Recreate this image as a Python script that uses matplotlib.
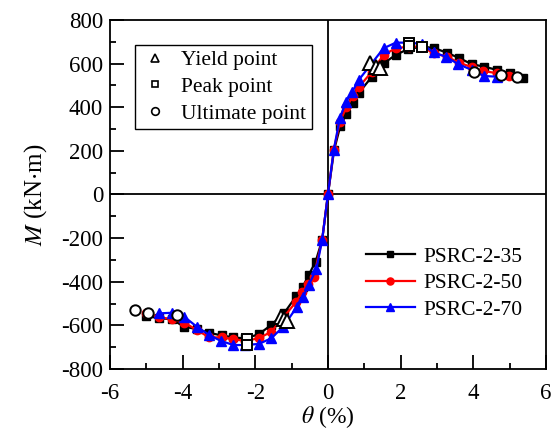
import matplotlib
matplotlib.use("Agg")
import matplotlib.pyplot as plt
from matplotlib.lines import Line2D
from matplotlib.ticker import MultipleLocator

plt.rcParams['font.family'] = ['Liberation Serif', 'DejaVu Serif']
plt.rcParams['mathtext.fontset'] = 'stix'
plt.rcParams['axes.unicode_minus'] = False

# ---- data (theta in %, M in kN*m) ----
th_35 = [-5.01, -4.65, -4.30, -3.96, -3.61, -3.27, -2.93, -2.60, -2.27, -1.90, -1.56, -1.21, -0.87, -0.69, -0.53, -0.34, -0.16, 0.0,
         0.17, 0.34, 0.51, 0.69, 0.86, 1.21, 1.53, 1.87, 2.20, 2.59, 2.93, 3.27, 3.62, 3.96, 4.30, 4.65, 5.00, 5.36]
m_35 = [-557, -567, -572, -606, -617, -634, -646, -655, -660, -640, -598, -545, -465, -422, -369, -308, -209, 0,
        204, 314, 369, 418, 467, 540, 601, 640, 666, 678, 671, 650, 625, 597, 586, 571, 555, 536]

th_50 = [-5.01, -4.65, -4.30, -3.96, -3.61, -3.27, -2.93, -2.60, -2.27, -1.90, -1.56, -1.21, -0.87, -0.71, -0.55, -0.39, -0.16, 0.0,
         0.16, 0.33, 0.51, 0.69, 0.86, 1.21, 1.53, 1.87, 2.22, 2.59, 2.91, 3.27, 3.62, 3.96, 4.28, 4.65, 4.99]
m_50 = [-542, -562, -572, -587, -621, -655, -655, -664, -671, -659, -629, -560, -491, -446, -410, -377, -209, 0,
        204, 334, 400, 452, 494, 563, 640, 670, 678, 678, 647, 632, 603, 584, 566, 556, 543]

th_70 = [-4.65, -4.28, -3.96, -3.61, -3.27, -2.95, -2.60, -2.27, -1.90, -1.56, -1.23, -0.85, -0.68, -0.53, -0.32, -0.16, 0.0,
         0.16, 0.33, 0.50, 0.67, 0.85, 1.53, 1.87, 2.22, 2.59, 2.91, 3.24, 3.59, 3.96, 4.30, 4.65]
m_70 = [-545, -542, -560, -606, -644, -671, -690, -690, -685, -659, -606, -514, -468, -415, -343, -209, 0,
        204, 352, 425, 471, 525, 670, 696, 696, 690, 651, 632, 597, 571, 543, 540]

yield_th = [1.15, 1.33, 1.42, -1.30, -1.22, -1.12]
yield_m = [601, 586, 578, -560, -570, -580]
peak_th = [2.22, 2.22, 2.59, -2.24, -2.24]
peak_m = [696, 680, 678, -664, -690]
ult_th = [4.02, 4.76, 5.21, -5.32, -4.95, -4.16]
ult_m = [560, 548, 540, -530, -545, -552]

series_labels = ['PSRC-2-35', 'PSRC-2-50', 'PSRC-2-70']
point_labels = ['Yield point', 'Peak point', 'Ultimate point']

fig = plt.figure(figsize=(5.57, 4.43), dpi=100)
ax = fig.add_axes([0.1975, 0.167, 0.7825, 0.788])

ax.axhline(0, color='black', lw=1.3, zorder=1)
ax.axvline(0, color='black', lw=1.3, zorder=1)

h1, = ax.plot(th_35, m_35, '-s', color='black', lw=1.6, ms=5.5, zorder=3)
h2, = ax.plot(th_50, m_50, '-o', color='red', lw=1.6, ms=6, zorder=4)
h3, = ax.plot(th_70, m_70, '-^', color='blue', lw=1.6, ms=6.5, zorder=5)

ax.plot(yield_th, yield_m, '^', mfc='white', mec='black', mew=1.4, ms=9.5, ls='none', zorder=6)
ax.plot(peak_th, peak_m, 's', mfc='white', mec='black', mew=1.4, ms=7, ls='none', zorder=6)
ax.plot(ult_th, ult_m, 'o', mfc='white', mec='black', mew=1.4, ms=7.5, ls='none', zorder=6)

ax.set_xlim(-6, 6)
ax.set_ylim(-800, 800)
ax.xaxis.set_major_locator(MultipleLocator(2))
ax.xaxis.set_minor_locator(MultipleLocator(1))
ax.yaxis.set_major_locator(MultipleLocator(200))
ax.yaxis.set_minor_locator(MultipleLocator(100))
ax.tick_params(which='major', direction='in', length=10, width=1.3, labelsize=16.5)
ax.tick_params(axis='x', which='major', pad=10)
ax.tick_params(axis='y', which='major', pad=5)
ax.tick_params(which='minor', direction='in', length=4.5, width=1.3)
for s in ax.spines.values():
    s.set_linewidth(1.3)

ax.set_xlabel(r'$\mathit{\theta}$ (%)', fontsize=17, labelpad=0)
ax.set_ylabel(r'$\mathit{M}$ (kN$\cdot$m)', fontsize=18, labelpad=9)

# marker-type legend
ph = [Line2D([], [], marker='^', ls='none', mfc='white', mec='black', mew=1.2, ms=5.5),
      Line2D([], [], marker='s', ls='none', mfc='white', mec='black', mew=1.2, ms=5),
      Line2D([], [], marker='o', ls='none', mfc='white', mec='black', mew=1.2, ms=5.5)]
leg1 = ax.legend(ph, point_labels, loc='upper left', bbox_to_anchor=(135/557, 1-45/443),
                 bbox_transform=fig.transFigure, fontsize=15.5, frameon=True, fancybox=False,
                 edgecolor='black', framealpha=1, borderpad=0.25, labelspacing=0.3,
                 handlelength=1.4, handletextpad=0.5, borderaxespad=0)
leg1.get_frame().set_linewidth(1.0)
ax.add_artist(leg1)

leg2 = ax.legend([h1, h2, h3], series_labels, loc='upper left',
                 bbox_to_anchor=(357/557, 1-238/443), bbox_transform=fig.transFigure,
                 fontsize=15.5, frameon=False, labelspacing=0.3, handlelength=2.3,
                 handletextpad=0.4, borderaxespad=0, markerscale=0.85)

fig.savefig('out.png', dpi=100)
